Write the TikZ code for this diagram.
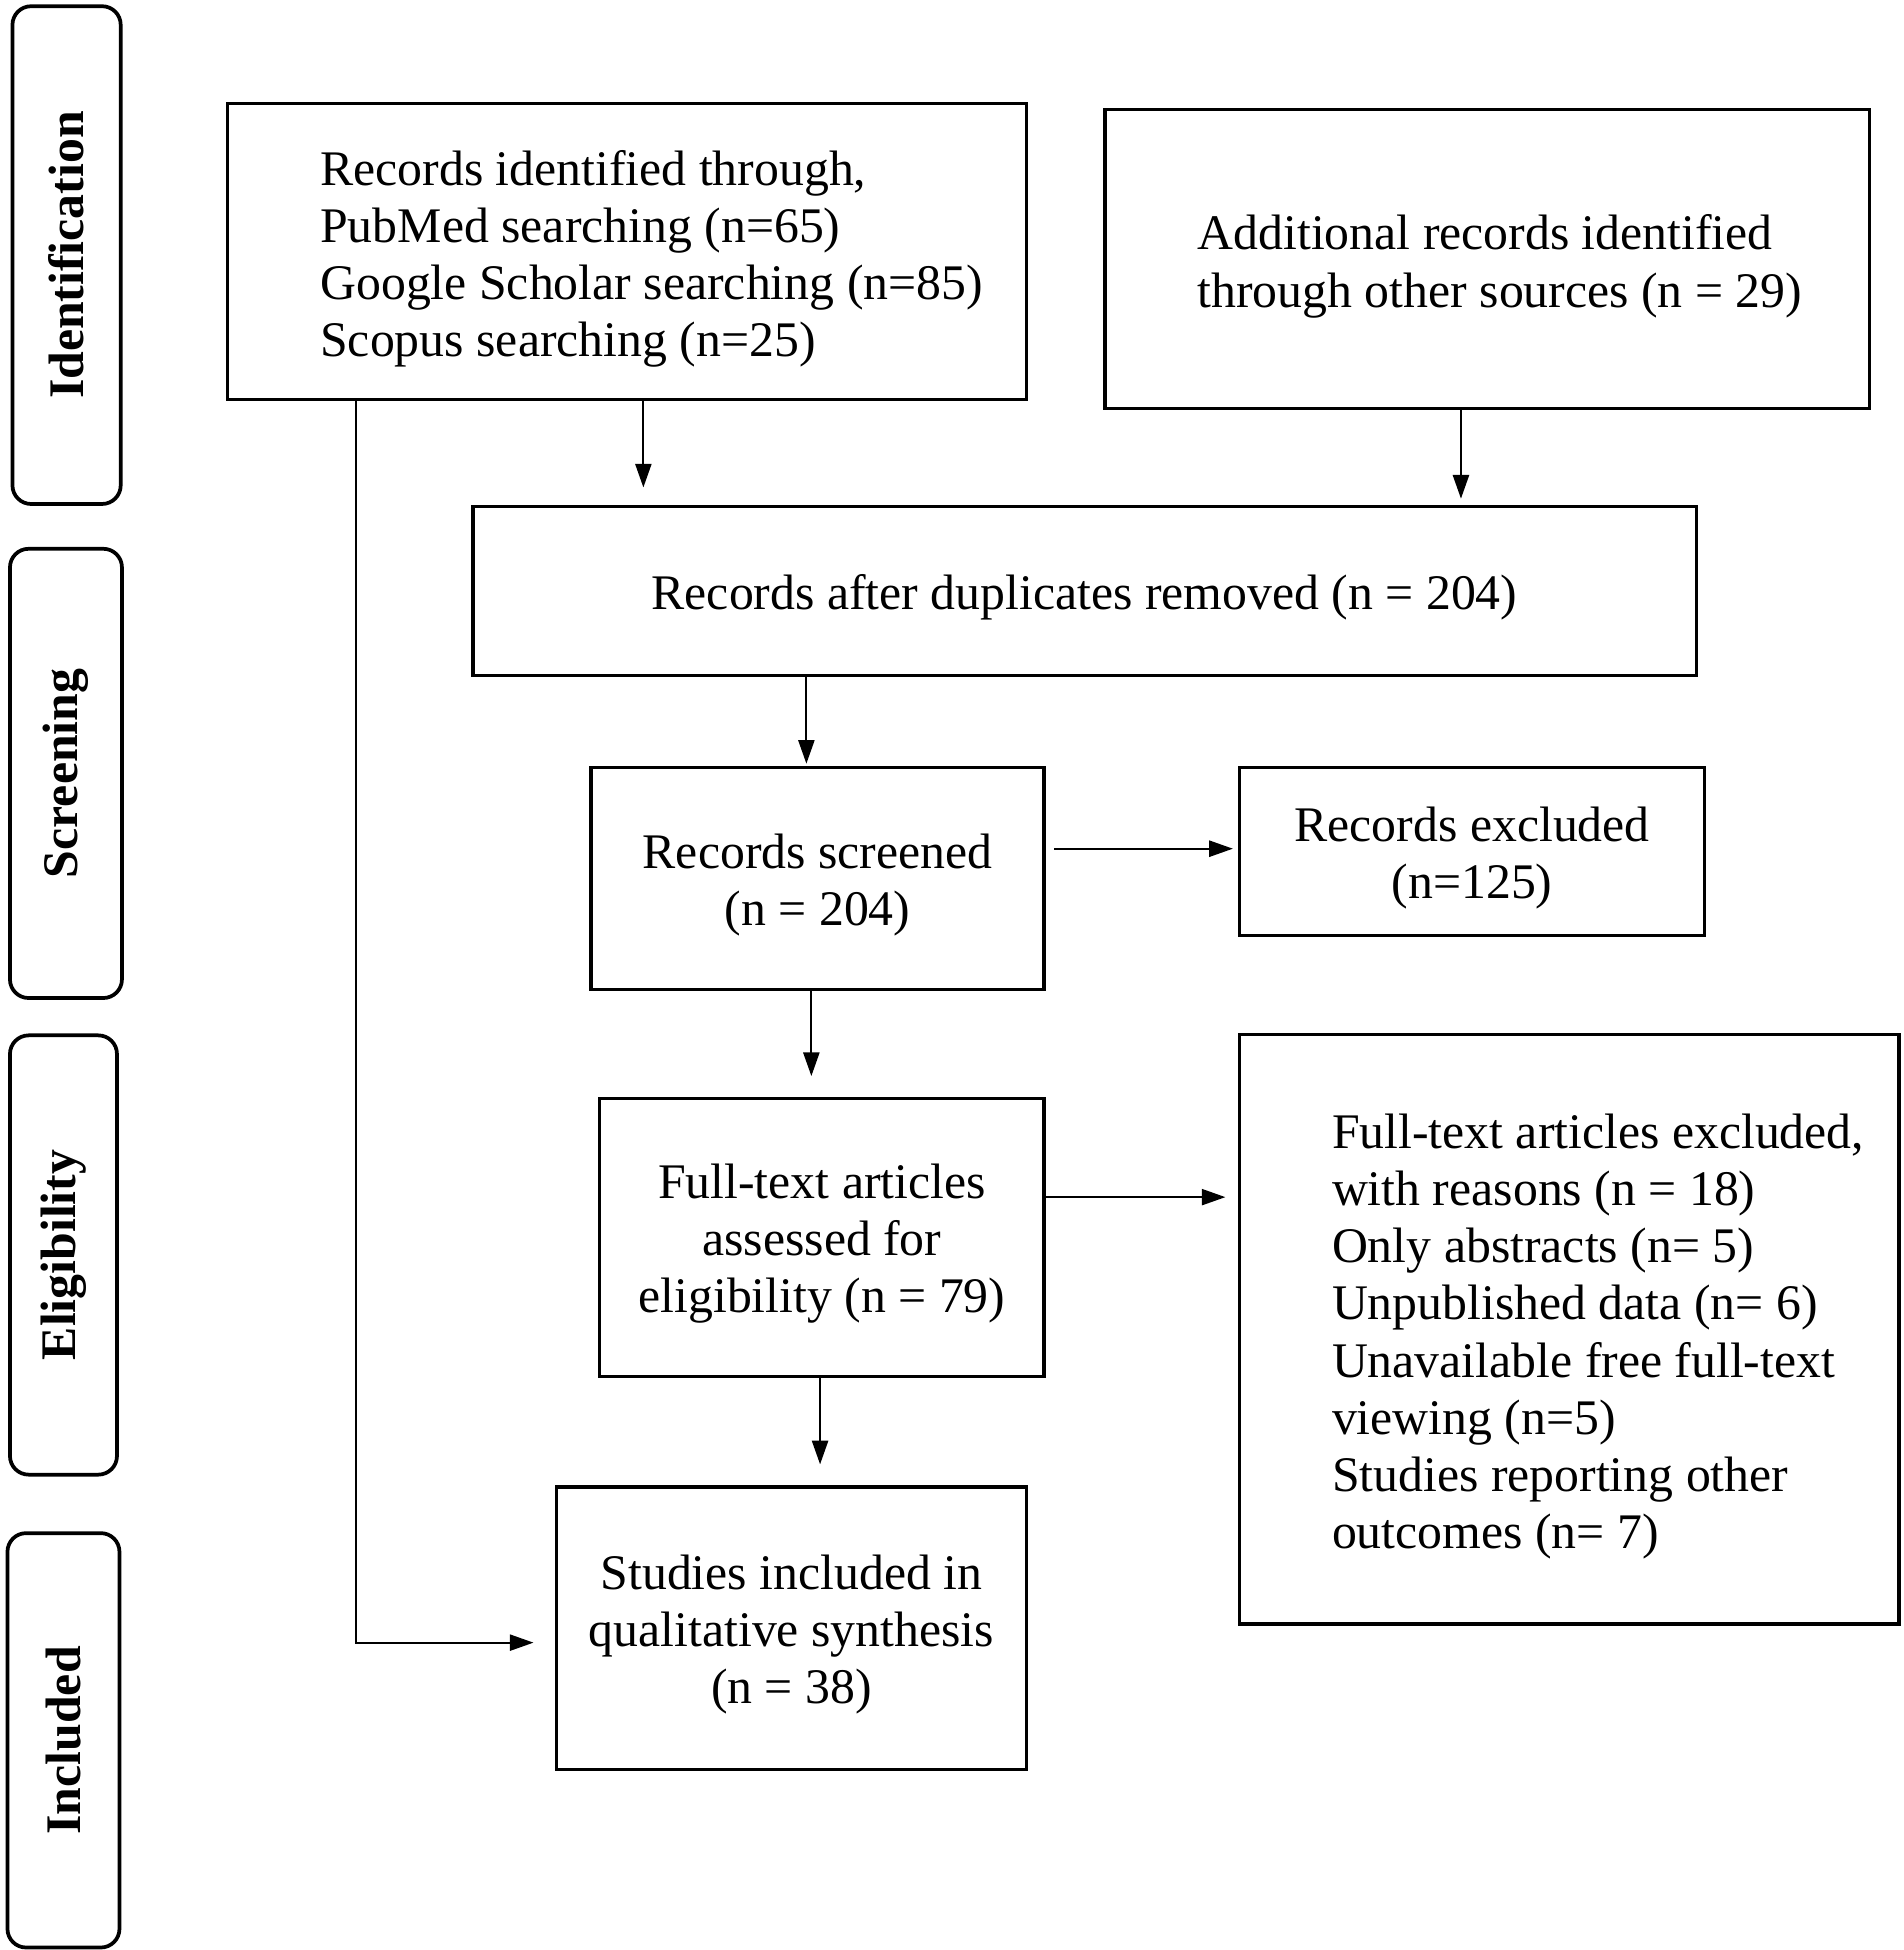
\documentclass[tikz,border=0pt]{standalone}
\usepackage{fontspec}
\setmainfont{Liberation Serif}
\usetikzlibrary{arrows.meta}
\begin{document}
\begin{tikzpicture}[x=0.5pt,y=-0.5pt,
 box/.style={draw, line width=1.3pt, inner sep=0pt},
 ctxt/.style={inner sep=0pt, align=center, font=\fontsize{20}{23}\selectfont},
 txt/.style={inner sep=0pt, align=left, anchor=west, font=\fontsize{20}{23}\selectfont},
 side/.style={draw, line width=1.5pt, rounded corners=7.5pt, inner sep=0pt, rotate=90, font=\fontsize{20}{23}\selectfont\bfseries},
 arr/.style={line width=0.75pt, -{Triangle[length=9.5pt,width=6.5pt]}}]
\useasboundingbox (0,0) rectangle (1530,1567);
% side labels
\node[side, minimum width=200pt, minimum height=43.5pt] (s1) at (53.5,205) {Identification};
\node[side, minimum width=180.5pt, minimum height=45pt] (s2) at (53,621.5) {Screening};
\node[side, minimum width=176.5pt, minimum height=43pt] (s3) at (51,1008.5) {Eligibility};
\node[side, minimum width=166.5pt, minimum height=45pt] (s4) at (51,1398.5) {Included};
% boxes
\node[box, minimum width=321pt, minimum height=119pt] (A) at (504,202) {};
\node[txt] (At) at (257,208) {Records identified through,\\PubMed searching (n=65)\\Google Scholar searching (n=85)\\Scopus searching (n=25)};
\node[box, minimum width=307pt, minimum height=120pt] (B) at (1195,208) {};
\node[txt] (Bt) at (962,214) {Additional records identified\\through other sources (n = 29)};
\node[box, minimum width=491.5pt, minimum height=68pt] (C) at (871.5,475) {};
\node[ctxt] (Ct) at ([yshift=-2.5pt]C.center) {Records after duplicates removed (n = 204)};
\node[box, minimum width=182pt, minimum height=89pt] (D) at (657,706) {};
\node[ctxt] (Dt) at ([yshift=-2.5pt]D.center) {Records screened\\(n = 204)};
\node[box, minimum width=187pt, minimum height=67.5pt] (E) at (1183,684.5) {};
\node[ctxt] (Et) at ([yshift=-2.5pt]E.center) {Records excluded\\(n=125)};
\node[box, minimum width=178.5pt, minimum height=111.5pt] (F) at (660.5,994.5) {};
\node[ctxt] (Ft) at ([yshift=-2.5pt]F.center) {Full-text articles\\assessed for\\eligibility (n = 79)};
\node[box, minimum width=265pt, minimum height=237pt] (G) at (1261,1068) {};
\node[txt] (Gt) at (1070,1074) {Full-text articles excluded,\\with reasons (n = 18)\\Only abstracts (n= 5)\\Unpublished data (n= 6)\\Unavailable free full-text\\viewing (n=5)\\Studies reporting other\\outcomes (n= 7)};
\node[box, minimum width=189pt, minimum height=113.5pt] (H) at (636,1308.5) {};
\node[ctxt] (Ht) at ([yshift=-2.5pt]H.center) {Studies included in\\qualitative synthesis\\(n = 38)};
% arrows
\draw[arr, shorten >=7pt] ([xshift=6.5pt]A.south) -- ([xshift=6.5pt]A.south |- C.north);
\draw[arr, shorten >=2.5pt] ([xshift=-10.5pt]B.south) -- ([xshift=-10.5pt]B.south |- C.north);
\draw[arr, shorten >=1pt] ([xshift=-4.5pt]D.north |- C.south) -- ([xshift=-4.5pt]D.north);
\draw[arr, shorten <=3.5pt, shorten >=2pt] ([yshift=12pt]D.east) -- ([yshift=12pt]D.east -| E.west);
\draw[arr, shorten >=8.5pt] ([xshift=-2.5pt]D.south) -- ([xshift=-2.5pt]D.south |- F.north);
\draw[arr, shorten >=5pt] ([yshift=16.25pt]F.east) -- ([yshift=16.25pt]F.east -| G.west);
\draw[arr, shorten >=8.5pt] ([xshift=-0.75pt]F.south) -- ([xshift=-0.75pt]F.south |- H.north);
\draw[arr, shorten >=8.5pt] ([xshift=-109pt]A.south) |- ([yshift=-5.75pt]H.west);
\end{tikzpicture}
\end{document}
